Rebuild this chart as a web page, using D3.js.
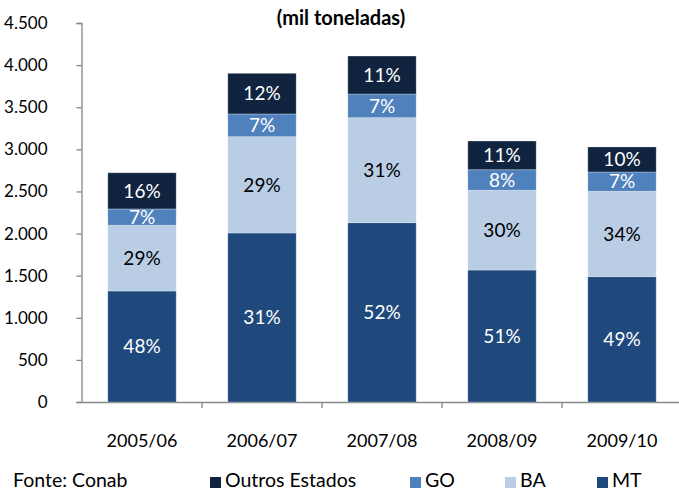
<!DOCTYPE html>
<html>
<head>
<meta charset="utf-8">
<script src="https://cdn.jsdelivr.net/npm/d3@7"></script>
<style>
  html, body { margin: 0; padding: 0; background: #fff; }
  svg { display: block; }
  text { font-family: Lato, "Open Sans", sans-serif; }
</style>
</head>
<body>
<svg id="chart" width="679" height="492"></svg>
<script>
// ---- data (mil toneladas) ----
const categories = ["2005/06", "2006/07", "2007/08", "2008/09", "2009/10"];
const seriesNames = ["MT", "BA", "GO", "Outros Estados"];
const mtValues     = [1318, 2007, 2129, 1567, 1488];
const baValues     = [780, 1143, 1247, 947, 1014];
const goValues     = [194, 270, 281, 244, 229];
const outrosValues = [430, 483, 451, 341, 297];
const mtLabels     = ["48%", "31%", "52%", "51%", "49%"];
const baLabels     = ["29%", "29%", "31%", "30%", "34%"];
const goLabels     = ["7%", "7%", "7%", "8%", "7%"];
const outrosLabels = ["16%", "12%", "11%", "11%", "10%"];
const yTicks = [0, 500, 1000, 1500, 2000, 2500, 3000, 3500, 4000, 4500];
const yTickLabels = ["0", "500", "1.000", "1.500", "2.000", "2.500", "3.000", "3.500", "4.000", "4.500"];
const legendOrder = ["Outros Estados", "GO", "BA", "MT"];
const titleText = "(mil toneladas)";
const sourceText = "Fonte: Conab";

const colors = { "MT": "#1f497d", "BA": "#b9cde5", "GO": "#4f81bd", "Outros Estados": "#10243f" };
const labelColors = { "MT": "#ffffff", "BA": "#000000", "GO": "#ffffff", "Outros Estados": "#ffffff" };

const valuesBy = { "MT": mtValues, "BA": baValues, "GO": goValues, "Outros Estados": outrosValues };
const labelsBy = { "MT": mtLabels, "BA": baLabels, "GO": goLabels, "Outros Estados": outrosLabels };

const rows = categories.map((c, i) => {
  const r = { cat: c };
  seriesNames.forEach(s => r[s] = valuesBy[s][i]);
  return r;
});
const stacked = d3.stack().keys(seriesNames)(rows);

const svg = d3.select("#chart");
const x0 = 82, x1 = 682, yTop = 23, yBot = 402;

const x = d3.scaleBand().domain(categories).range([x0, x1]).paddingInner(0.43).paddingOuter(0.215);
const y = d3.scaleLinear().domain([0, 4500]).range([yBot, yTop]);

const axisColor = "#868686";

// y axis
const yAxis = d3.axisLeft(y).tickValues(yTicks).tickSize(5).tickPadding(29)
  .tickFormat((d, i) => yTickLabels[i]);
const gy = svg.append("g").attr("transform", `translate(${x0 - 0.5},0)`).call(yAxis);
gy.select(".domain").attr("stroke", axisColor).attr("stroke-width", 1.3);
gy.selectAll(".tick line").attr("stroke", axisColor).attr("stroke-width", 1.3);
gy.selectAll(".tick text").attr("fill", "#000").style("font-size", "17px").style("font-family", "Lato");

// x axis
const xAxis = d3.axisBottom(x).tickSize(0).tickPadding(32);
const gx = svg.append("g").attr("transform", `translate(0,${yBot})`).call(xAxis);
gx.select(".domain").attr("stroke", axisColor).attr("stroke-width", 1.3);
gx.selectAll(".tick text").attr("fill", "#000").style("font-size", "18px").style("font-family", "Lato");
// category boundary ticks
const step = x.step();
const boundaries = categories.map(c => x(c) - (step - x.bandwidth()) / 2).slice(1);
gx.selectAll(".btick").data(boundaries).enter().append("line")
  .attr("x1", d => d).attr("x2", d => d).attr("y1", 0).attr("y2", 6)
  .attr("stroke", axisColor).attr("stroke-width", 1.3);

// bars
const layers = svg.append("g").selectAll("g").data(stacked).enter().append("g")
  .attr("fill", d => colors[d.key]);
layers.selectAll("rect").data(d => d.map(p => ({ p, key: d.key }))).enter().append("rect")
  .attr("x", d => x(d.p.data.cat))
  .attr("width", x.bandwidth())
  .attr("y", d => y(d.p[1]))
  .attr("height", d => y(d.p[0]) - y(d.p[1]))
  .attr("stroke", "#ffffff").attr("stroke-opacity", 0.35).attr("stroke-width", 0.8);

// labels
stacked.forEach(layer => {
  svg.append("g").selectAll("text").data(layer).enter().append("text")
    .attr("x", d => x(d.data.cat) + x.bandwidth() / 2)
    .attr("y", d => (y(d[0]) + y(d[1])) / 2)
    .attr("dy", "0.36em")
    .attr("text-anchor", "middle")
    .attr("fill", labelColors[layer.key])
    .style("font-size", "19px")
    .text((d, i) => labelsBy[layer.key][i]);
});

// title
svg.append("text").attr("x", 341).attr("y", 25).attr("text-anchor", "middle")
  .style("font-size", "20px").style("font-weight", "bold").text(titleText);

// source
svg.append("text").attr("x", 13).attr("y", 487).style("font-size", "19.5px").text(sourceText);

// legend
const legendX = { "Outros Estados": 210, "GO": 410, "BA": 505, "MT": 597 };
const lg = svg.append("g").selectAll("g").data(legendOrder).enter().append("g")
  .attr("transform", d => `translate(${legendX[d]},477)`);
lg.append("rect").attr("width", 11).attr("height", 11).attr("fill", d => colors[d]);
lg.append("text").attr("x", 15).attr("y", 10).style("font-size", "19.5px").text(d => d);
</script>
</body>
</html>
